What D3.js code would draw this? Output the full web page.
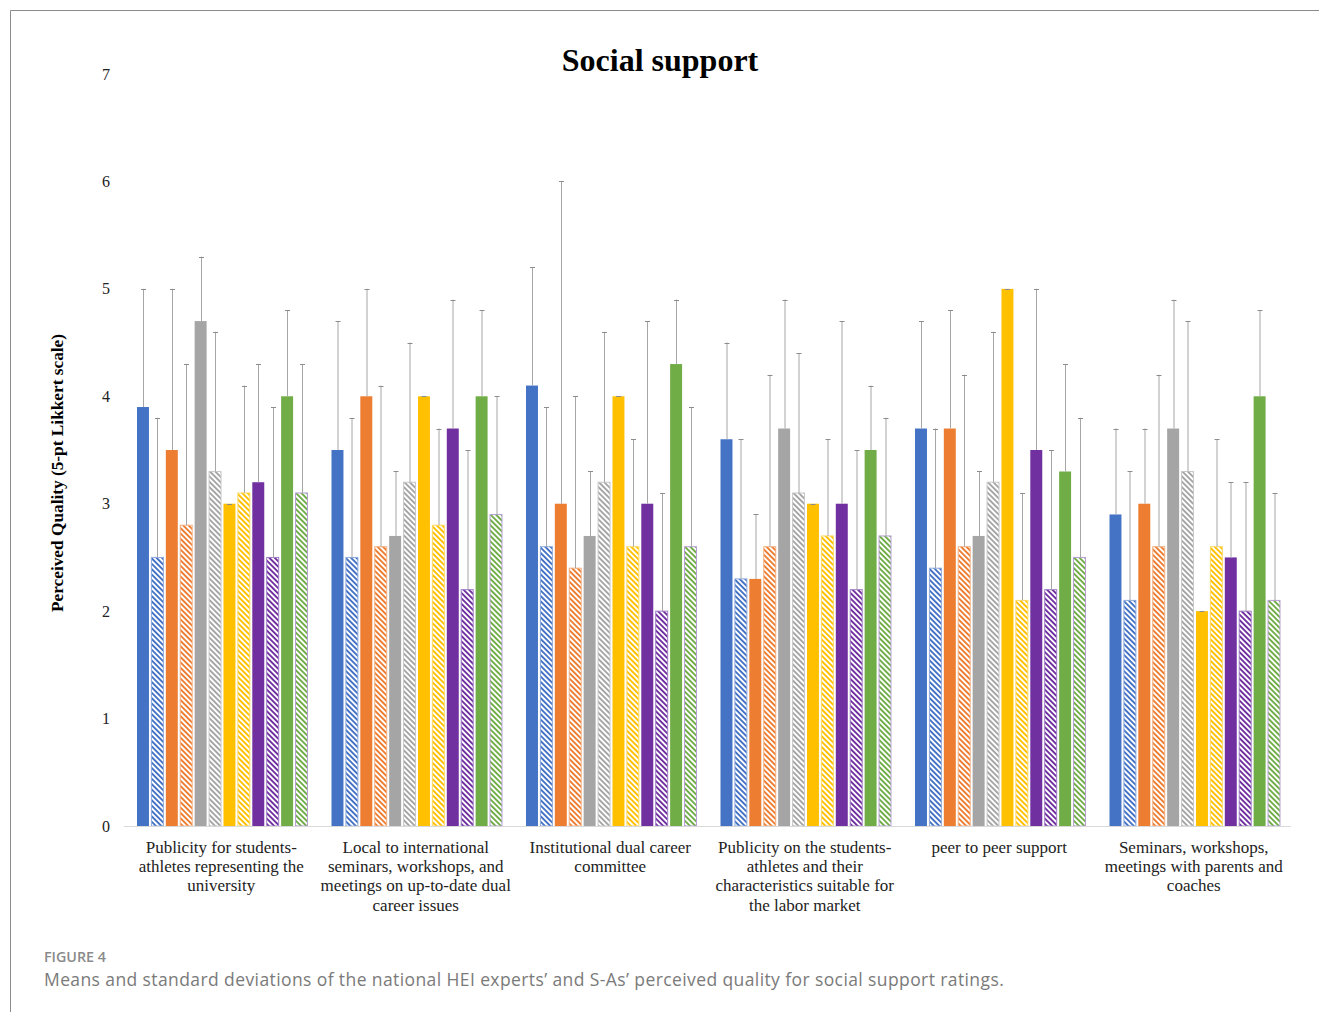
<!DOCTYPE html>
<html>
<head>
<meta charset="utf-8">
<script src="https://cdn.jsdelivr.net/npm/d3@7"></script>
<style>
  html, body { margin: 0; padding: 0; background: #fff; }
  svg { display: block; }
</style>
</head>
<body>
<svg id="chart" width="1319" height="1012"></svg>
<script>
// Rating items (x categories); "\n" marks line breaks in the axis labels
const categories = [
  "Publicity for students-\nathletes representing the\nuniversity",
  "Local to international\nseminars, workshops, and\nmeetings on up-to-date dual\ncareer issues",
  "Institutional dual career\ncommittee",
  "Publicity on the students-\nathletes and their\ncharacteristics suitable for\nthe labor market",
  "peer to peer support",
  "Seminars, workshops,\nmeetings with parents and\ncoaches"
];

// Six countries, each with an HEI-expert series (solid) and an S-A series (hatched)
const seriesKeys = ["c1_hei", "c1_sa", "c2_hei", "c2_sa", "c3_hei", "c3_sa",
                    "c4_hei", "c4_sa", "c5_hei", "c5_sa", "c6_hei", "c6_sa"];

// Mean ratings per series, one value per category
const c1_hei = [3.9, 3.5, 4.1, 3.6, 3.7, 2.9];
const c1_sa  = [2.5, 2.5, 2.6, 2.3, 2.4, 2.1];
const c2_hei = [3.5, 4.0, 3.0, 2.3, 3.7, 3.0];
const c2_sa  = [2.8, 2.6, 2.4, 2.6, 2.6, 2.6];
const c3_hei = [4.7, 2.7, 2.7, 3.7, 2.7, 3.7];
const c3_sa  = [3.3, 3.2, 3.2, 3.1, 3.2, 3.3];
const c4_hei = [3.0, 4.0, 4.0, 3.0, 5.0, 2.0];
const c4_sa  = [3.1, 2.8, 2.6, 2.7, 2.1, 2.6];
const c5_hei = [3.2, 3.7, 3.0, 3.0, 3.5, 2.5];
const c5_sa  = [2.5, 2.2, 2.0, 2.2, 2.2, 2.0];
const c6_hei = [4.0, 4.0, 4.3, 3.5, 3.3, 4.0];
const c6_sa  = [3.1, 2.9, 2.6, 2.7, 2.5, 2.1];

// Standard deviations per series (plotted as upward error bars)
const c1_hei_sd = [1.1, 1.2, 1.1, 0.9, 1.0, 0.8];
const c1_sa_sd  = [1.3, 1.3, 1.3, 1.3, 1.3, 1.2];
const c2_hei_sd = [1.5, 1.0, 3.0, 0.6, 1.1, 0.7];
const c2_sa_sd  = [1.5, 1.5, 1.6, 1.6, 1.6, 1.6];
const c3_hei_sd = [0.6, 0.6, 0.6, 1.2, 0.6, 1.2];
const c3_sa_sd  = [1.3, 1.3, 1.4, 1.3, 1.4, 1.4];
const c4_hei_sd = [0, 0, 0, 0, 0, 0];
const c4_sa_sd  = [1.0, 0.9, 1.0, 0.9, 1.0, 1.0];
const c5_hei_sd = [1.1, 1.2, 1.7, 1.7, 1.5, 0.7];
const c5_sa_sd  = [1.4, 1.3, 1.1, 1.3, 1.3, 1.2];
const c6_hei_sd = [0.8, 0.8, 0.6, 0.6, 1.0, 0.8];
const c6_sa_sd  = [1.2, 1.1, 1.3, 1.1, 1.3, 1.0];

const yTicks = [0, 1, 2, 3, 4, 5, 6, 7];

const means = { c1_hei, c1_sa, c2_hei, c2_sa, c3_hei, c3_sa, c4_hei, c4_sa, c5_hei, c5_sa, c6_hei, c6_sa };
const sds = { c1_hei: c1_hei_sd, c1_sa: c1_sa_sd, c2_hei: c2_hei_sd, c2_sa: c2_sa_sd,
              c3_hei: c3_hei_sd, c3_sa: c3_sa_sd, c4_hei: c4_hei_sd, c4_sa: c4_sa_sd,
              c5_hei: c5_hei_sd, c5_sa: c5_sa_sd, c6_hei: c6_hei_sd, c6_sa: c6_sa_sd };

const baseColors = ["#4472C4", "#ED7D31", "#A5A5A5", "#FFC000", "#7030A0", "#70AD47"];
const hatchBorders = ["#8eaadb", "#f4b183", "#c9c9c9", "#ffd966", "#a07cc5", "#b79fd6"];

const serif = "'Liberation Serif', 'Times New Roman', serif";
const svg = d3.select("#chart");

// Outer frame lines
svg.append("path")
  .attr("d", "M10.5,1012 V10.5 H1319")
  .attr("fill", "none")
  .attr("stroke", "#8c8c8c")
  .attr("stroke-width", 1);

// Hatch patterns (down-right diagonal stripes)
const defs = svg.append("defs");
baseColors.forEach((c, i) => {
  const p = defs.append("pattern")
    .attr("id", "hatch" + i)
    .attr("patternUnits", "userSpaceOnUse")
    .attr("width", 3.8)
    .attr("height", 3.8)
    .attr("patternTransform", "rotate(-45)");
  p.append("rect").attr("width", 3.8).attr("height", 3.8).attr("fill", "#fff");
  p.append("rect").attr("width", 1.9).attr("height", 3.8).attr("fill", c);
});

const x0 = d3.scaleBand().domain(d3.range(categories.length)).range([124, 1291]).padding(0);
const x1 = d3.scaleBand().domain(seriesKeys).range([13, x0.bandwidth() - 11]).paddingInner(0.17);
const y = d3.scaleLinear().domain([0, 7]).range([826, 74]);

// Title
svg.append("text")
  .attr("x", 660).attr("y", 71)
  .attr("text-anchor", "middle")
  .attr("font-family", serif)
  .attr("font-weight", "bold")
  .attr("font-size", 32)
  .attr("fill", "#000")
  .text("Social support");

// Y axis (labels only)
const yAxis = d3.axisLeft(y).tickValues(yTicks).tickSize(0).tickPadding(0).tickFormat(d3.format("d"));
const yg = svg.append("g").attr("transform", "translate(110,0)").call(yAxis);
yg.select(".domain").remove();
yg.selectAll("text")
  .attr("font-family", serif)
  .attr("font-size", 16)
  .attr("fill", "#222");

// Y axis title
svg.append("text")
  .attr("transform", "translate(63,473) rotate(-90)")
  .attr("text-anchor", "middle")
  .attr("font-family", serif)
  .attr("font-weight", "bold")
  .attr("font-size", 17.3)
  .attr("fill", "#000")
  .text("Perceived Quality (5-pt Likkert scale)");

// Bars
const groups = svg.append("g").selectAll("g")
  .data(categories.map((c, i) => i))
  .join("g")
  .attr("transform", i => `translate(${x0(i)},0)`);

const barData = i => seriesKeys.map((k, s) => ({ key: k, s, value: means[k][i], sd: sds[k][i] }));

groups.selectAll("rect.bar")
  .data(barData)
  .join("rect")
  .attr("class", "bar")
  .attr("x", d => x1(d.key))
  .attr("y", d => y(d.value))
  .attr("width", x1.bandwidth())
  .attr("height", d => y(0) - y(d.value))
  .attr("fill", d => d.s % 2 === 0 ? baseColors[d.s / 2] : `url(#hatch${(d.s - 1) / 2})`)
  .attr("stroke", d => d.s % 2 === 0 ? "none" : hatchBorders[(d.s - 1) / 2])
  .attr("stroke-width", d => d.s % 2 === 0 ? 0 : 1);

// Category axis baseline
svg.append("line")
  .attr("x1", 124).attr("x2", 1291)
  .attr("y1", y(0) + 0.5).attr("y2", y(0) + 0.5)
  .attr("stroke", "#d9d9d9").attr("stroke-width", 1);

// Error bars (plus direction)
const eb = groups.selectAll("g.err")
  .data(barData)
  .join("g")
  .attr("class", "err");
eb.append("line")
  .attr("x1", d => Math.round(x1(d.key) + x1.bandwidth() / 2) + 0.5)
  .attr("x2", d => Math.round(x1(d.key) + x1.bandwidth() / 2) + 0.5)
  .attr("y1", d => y(d.value))
  .attr("y2", d => y(d.value + d.sd))
  .attr("stroke", "#a6a6a6").attr("stroke-width", 1);
eb.append("line")
  .attr("x1", d => Math.round(x1(d.key) + x1.bandwidth() / 2) - 2)
  .attr("x2", d => Math.round(x1(d.key) + x1.bandwidth() / 2) + 3)
  .attr("y1", d => Math.round(y(d.value + d.sd)) + 0.5)
  .attr("y2", d => Math.round(y(d.value + d.sd)) + 0.5)
  .attr("stroke", "#8c8c8c").attr("stroke-width", 1);

// Category labels
const catLabels = svg.append("g").selectAll("text")
  .data(categories.map((c, i) => ({ c, i })))
  .join("text")
  .attr("text-anchor", "middle")
  .attr("font-family", serif)
  .attr("font-size", 17)
  .attr("fill", "#222")
  .attr("x", d => x0(d.i) + x0.bandwidth() / 2)
  .attr("y", 853);
catLabels.selectAll("tspan")
  .data(d => d.c.split("\n").map(t => ({ t, x: x0(d.i) + x0.bandwidth() / 2 })))
  .join("tspan")
  .attr("x", d => d.x)
  .attr("dy", (d, j) => j === 0 ? 0 : 19.2)
  .text(d => d.t);

// Figure caption
svg.append("text")
  .attr("x", 44).attr("y", 962)
  .attr("font-family", "'Open Sans', 'Noto Sans', sans-serif")
  .attr("font-weight", 600)
  .attr("font-size", 14.3)
  .attr("fill", "#8a8a8a")
  .text("FIGURE 4");
svg.append("text")
  .attr("x", 44).attr("y", 986)
  .attr("font-family", "'Open Sans', 'Noto Sans', sans-serif")
  .attr("font-size", 17.5)
  .attr("letter-spacing", 0.4)
  .attr("fill", "#7a7a7a")
  .text("Means and standard deviations of the national HEI experts\u2019 and S-As\u2019 perceived quality for social support ratings.");
</script>
</body>
</html>
